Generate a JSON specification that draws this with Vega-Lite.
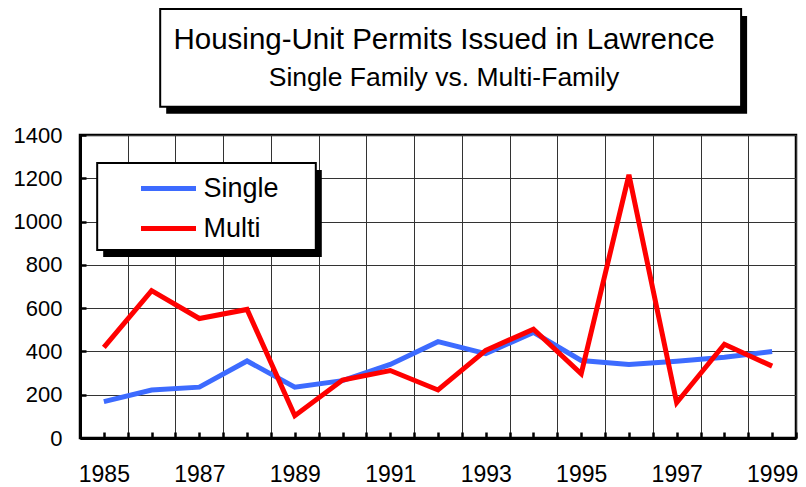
{
  "$schema": "https://vega.github.io/schema/vega-lite/v6.json",
  "autosize": {"type": "none"},
  "width": 716,
  "height": 303,
  "padding": {"left": 80, "top": 135, "right": 10, "bottom": 49},
  "background": "white",
  "config": {
    "font": "Liberation Sans",
    "view": {"stroke": "black", "strokeWidth": 2.5}
  },
  "title": {
    "text": "Housing-Unit Permits Issued in Lawrence",
    "subtitle": "Single Family vs. Multi-Family",
    "fontSize": 29.5,
    "fontWeight": "normal",
    "subtitleFontSize": 26.5,
    "subtitleColor": "black",
    "color": "black",
    "anchor": "middle",
    "frame": "group",
    "dx": 6,
    "offset": -84,
    "subtitlePadding": 9,
    "zindex": 1
  },
  "datasets": {
    "permits": [
      {"year": 1985, "type": "Single", "units": 168},
      {"year": 1986, "type": "Single", "units": 222},
      {"year": 1987, "type": "Single", "units": 235},
      {"year": 1988, "type": "Single", "units": 356},
      {"year": 1989, "type": "Single", "units": 235},
      {"year": 1990, "type": "Single", "units": 265},
      {"year": 1991, "type": "Single", "units": 340},
      {"year": 1992, "type": "Single", "units": 445},
      {"year": 1993, "type": "Single", "units": 390},
      {"year": 1994, "type": "Single", "units": 488},
      {"year": 1995, "type": "Single", "units": 358},
      {"year": 1996, "type": "Single", "units": 340},
      {"year": 1997, "type": "Single", "units": 355},
      {"year": 1998, "type": "Single", "units": 373},
      {"year": 1999, "type": "Single", "units": 400},
      {"year": 1985, "type": "Multi", "units": 419},
      {"year": 1986, "type": "Multi", "units": 681},
      {"year": 1987, "type": "Multi", "units": 552},
      {"year": 1988, "type": "Multi", "units": 594},
      {"year": 1989, "type": "Multi", "units": 103},
      {"year": 1990, "type": "Multi", "units": 268},
      {"year": 1991, "type": "Multi", "units": 312},
      {"year": 1992, "type": "Multi", "units": 222},
      {"year": 1993, "type": "Multi", "units": 405},
      {"year": 1994, "type": "Multi", "units": 503},
      {"year": 1995, "type": "Multi", "units": 297},
      {"year": 1996, "type": "Multi", "units": 1216},
      {"year": 1997, "type": "Multi", "units": 163},
      {"year": 1998, "type": "Multi", "units": 433},
      {"year": 1999, "type": "Multi", "units": 332}
    ]
  },
  "resolve": {"axis": {"x": "independent"}},
  "layer": [
    {
      "data": {"values": [{}]},
      "mark": {"type": "rect", "fill": "black", "xOffset": 6, "x2Offset": 6, "yOffset": 7, "y2Offset": 7},
      "encoding": {
        "x": {"datum": 1986.18, "type": "quantitative", "axis": null},
        "x2": {"datum": 1998.35},
        "y": {"datum": 1982, "type": "quantitative"},
        "y2": {"datum": 1530}
      }
    },
    {
      "data": {"values": [{}]},
      "mark": {"type": "rect", "fill": "white", "stroke": "black", "strokeWidth": 2},
      "encoding": {
        "x": {"datum": 1986.18, "type": "quantitative", "axis": null},
        "x2": {"datum": 1998.35},
        "y": {"datum": 1982, "type": "quantitative"},
        "y2": {"datum": 1530}
      }
    },
    {
      "data": {"values": [{}]},
      "mark": {"type": "rect", "fill": "black", "xOffset": 6, "x2Offset": 6, "yOffset": 7, "y2Offset": 7},
      "encoding": {
        "x": {"datum": 1984.86, "type": "quantitative", "axis": null},
        "x2": {"datum": 1989.44},
        "y": {"datum": 1271, "type": "quantitative"},
        "y2": {"datum": 869}
      }
    },
    {
      "data": {"values": [{}]},
      "mark": {"type": "rect", "fill": "white", "stroke": "black", "strokeWidth": 2},
      "encoding": {
        "x": {
          "datum": 1984.86,
          "type": "quantitative",
          "axis": {
            "orient": "bottom",
            "title": null,
            "values": [1984.5, 1985.5, 1986.5, 1987.5, 1988.5, 1989.5, 1990.5, 1991.5, 1992.5, 1993.5, 1994.5, 1995.5, 1996.5, 1997.5, 1998.5, 1999.5],
            "labels": false,
            "grid": true,
            "gridColor": "#333333",
            "gridWidth": 1,
            "domain": true,
            "domainColor": "black",
            "domainWidth": 3,
            "ticks": true,
            "tickSize": -6,
            "tickWidth": 2.5,
            "tickColor": "black"
          }
        },
        "x2": {"datum": 1989.44},
        "y": {"datum": 1271, "type": "quantitative"},
        "y2": {"datum": 869}
      }
    },
    {
      "data": {"name": "permits"},
      "mark": {"type": "line", "strokeWidth": 5, "strokeJoin": "miter", "strokeCap": "butt"},
      "encoding": {
        "x": {
          "field": "year",
          "type": "quantitative",
          "scale": {"domain": [1984.5, 1999.5], "nice": false, "zero": false},
          "axis": {
            "orient": "bottom",
            "title": null,
            "values": [1985, 1986, 1987, 1988, 1989, 1990, 1991, 1992, 1993, 1994, 1995, 1996, 1997, 1998, 1999],
            "format": "d",
            "labelExpr": "datum.value % 2 == 1 ? datum.label : ''",
            "labelOverlap": false,
            "labelFlush": false,
            "labelFontSize": 23,
            "labelColor": "black",
            "labelPadding": 31,
            "grid": false,
            "domain": false,
            "ticks": true,
            "tickSize": -6,
            "tickWidth": 2.5,
            "tickColor": "black"
          }
        },
        "y": {
          "field": "units",
          "type": "quantitative",
          "scale": {"domain": [0, 1400], "nice": false},
          "axis": {
            "title": null,
            "values": [0, 200, 400, 600, 800, 1000, 1200, 1400],
            "format": "d",
            "labelFontSize": 22,
            "labelColor": "black",
            "labelPadding": 24,
            "grid": true,
            "gridColor": "#333333",
            "gridWidth": 1,
            "domain": true,
            "domainColor": "black",
            "domainWidth": 3,
            "ticks": true,
            "tickSize": -6,
            "tickWidth": 2.5,
            "tickColor": "black"
          }
        },
        "color": {
          "field": "type",
          "type": "nominal",
          "scale": {"domain": ["Single", "Multi"], "range": ["#3D6BFF", "#FF0000"]},
          "legend": {
            "title": null,
            "orient": "none",
            "legendX": 75,
            "legendY": 40,
            "padding": 0,
            "symbolType": "M-2.5,0H2.5",
            "symbolSize": 484,
            "symbolStrokeWidth": 5,
            "labelFontSize": 27,
            "labelColor": "black",
            "labelOffset": 21.5,
            "rowPadding": 12
          }
        }
      }
    }
  ]
}
